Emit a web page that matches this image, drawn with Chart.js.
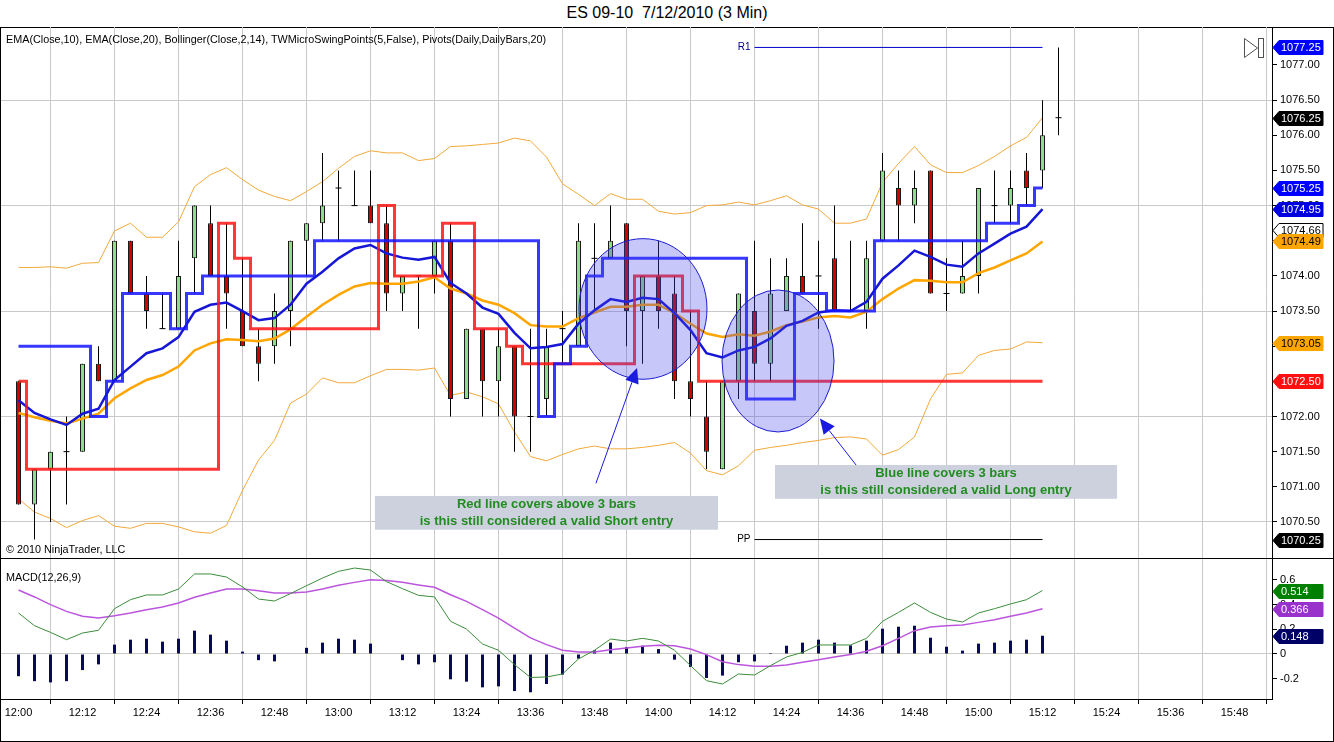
<!DOCTYPE html>
<html>
<head>
<meta charset="utf-8">
<title>ES 09-10 7/12/2010 (3 Min)</title>
<script src="https://cdn.jsdelivr.net/npm/chart.js@4.4.1/dist/chart.umd.min.js"></script>
<style>
  html, body { margin: 0; padding: 0; background: #fff; }
  body { width: 1334px; height: 742px; position: relative; overflow: hidden; font-family: "Liberation Sans", Arial, sans-serif; color: #000; }
  #title { position: absolute; left: 0; top: 4px; width: 1334px; text-align: center; font-size: 16px; line-height: 18px; }
  #frame { position: absolute; left: 0; top: 27px; width: 1332px; height: 713px; border: 1px solid #000; }
  #sep { position: absolute; left: 0; top: 558px; width: 1334px; height: 1px; background: #000; }
  .box { position: absolute; left: 0; width: 1334px; }
  #priceBox { top: 27px; height: 531px; }
  #macdBox { top: 558px; height: 184px; }
  .lbl { position: absolute; left: 6px; font-size: 10.8px; line-height: 13px; white-space: nowrap; }
</style>
</head>
<body>
<div id="title">ES 09-10&nbsp; 7/12/2010 (3 Min)</div>
<div id="frame"></div>
<div class="box" id="priceBox"><canvas id="priceChart"></canvas></div>
<div class="box" id="macdBox"><canvas id="macdChart"></canvas></div>
<div id="sep"></div>
<div class="lbl" style="top:33px">EMA(Close,10), EMA(Close,20), Bollinger(Close,2,14), TWMicroSwingPoints(5,False), Pivots(Daily,DailyBars,20)</div>
<div class="lbl" style="top:543px">© 2010 NinjaTrader, LLC</div>
<div class="lbl" style="top:571px">MACD(12,26,9)</div>

<script>
/* ── axis labels ── */
const timeLabels = ['12:00','12:12','12:24','12:36','12:48','13:00','13:12','13:24','13:36','13:48',
                    '14:00','14:12','14:24','14:36','14:48','15:00','15:12','15:24','15:36','15:48'];
const priceTicks = [1070.5, 1071, 1071.5, 1072, 1072.5, 1073, 1073.5, 1074, 1074.5, 1075, 1075.5, 1076, 1076.5, 1077];
const priceGrid  = [1070.5, 1072, 1073.5, 1075, 1076.5];
const macdTicks  = [-0.2, 0, 0.2, 0.4, 0.6];

/* ── 3 min bars, 12:00 .. 15:15 ── */
const opens  = [1072.5, 1070.75, 1071.25, 1071.5, 1071.5, 1072.75, 1072.5, 1074.5, 1073.75, 1073.25,
                1073.25, 1074.25, 1074.75, 1074.0, 1073.5, 1073.0, 1073.0, 1073.5, 1074.5, 1074.75,
                1075.25, 1075.0, 1075.0, 1074.75, 1073.75, 1074.0, 1074.0, 1074.5, 1072.25, 1073.25,
                1072.5, 1073.0, 1072.0, 1072.25, 1073.25, 1073.0, 1074.25, 1074.25, 1074.75, 1073.5,
                1074.0, 1073.75, 1072.5, 1072.0, 1071.25, 1072.5, 1073.5, 1072.75, 1073.5, 1074.0,
                1074.0, 1074.25, 1073.5, 1073.5, 1074.5, 1075.25, 1075.0, 1075.5, 1073.75, 1073.75,
                1074.0, 1075.0, 1075.0, 1075.5, 1075.5, 1076.25];
const highs  = [1072.5, 1071.25, 1071.5, 1072.0, 1072.75, 1073.0, 1074.5, 1074.5, 1074.0, 1073.75,
                1074.5, 1075.0, 1075.0, 1074.75, 1074.25, 1073.25, 1073.75, 1074.5, 1074.75, 1075.75,
                1075.5, 1075.5, 1075.5, 1075.0, 1074.0, 1074.0, 1074.5, 1074.75, 1073.25, 1073.25,
                1073.25, 1073.0, 1073.25, 1073.25, 1073.5, 1074.75, 1074.75, 1075.0, 1074.75, 1074.0,
                1074.5, 1074.0, 1073.5, 1072.5, 1072.5, 1073.75, 1074.5, 1074.25, 1074.25, 1074.75,
                1074.5, 1075.0, 1074.5, 1074.5, 1075.75, 1075.5, 1075.5, 1075.5, 1074.25, 1074.5,
                1075.25, 1075.5, 1075.5, 1075.75, 1076.5, 1077.25];
const lows   = [1070.75, 1070.25, 1070.5, 1070.75, 1071.5, 1072.5, 1072.5, 1073.75, 1073.25, 1073.25,
                1073.25, 1073.75, 1074.0, 1073.25, 1073.0, 1072.5, 1072.75, 1073.0, 1074.0, 1074.5,
                1074.5, 1075.0, 1074.75, 1073.5, 1073.5, 1073.25, 1073.75, 1072.0, 1072.25, 1072.0,
                1072.0, 1071.5, 1071.5, 1072.0, 1072.75, 1073.0, 1073.5, 1074.25, 1073.0, 1072.75,
                1073.25, 1072.25, 1072.0, 1071.25, 1071.25, 1072.25, 1072.5, 1072.5, 1073.5, 1073.75,
                1073.25, 1073.5, 1073.5, 1073.25, 1074.5, 1074.5, 1074.75, 1073.75, 1073.5, 1073.75,
                1073.75, 1074.75, 1074.75, 1075.0, 1075.25, 1076.0];
const closes = [1070.75, 1071.25, 1071.5, 1071.5, 1072.75, 1072.5, 1074.5, 1073.75, 1073.5, 1073.25,
                1074.0, 1075.0, 1074.0, 1073.75, 1073.0, 1072.75, 1073.5, 1074.5, 1074.75, 1075.0,
                1075.25, 1075.0, 1074.75, 1073.75, 1074.0, 1074.0, 1074.5, 1072.25, 1073.25, 1072.5,
                1073.0, 1072.0, 1072.0, 1073.0, 1073.25, 1074.5, 1074.25, 1074.5, 1073.5, 1074.0,
                1073.5, 1072.5, 1072.25, 1071.5, 1072.5, 1073.75, 1072.75, 1073.75, 1074.0, 1073.75,
                1074.0, 1073.5, 1073.5, 1074.25, 1075.5, 1075.0, 1075.25, 1073.75, 1073.75, 1074.0,
                1075.25, 1075.0, 1075.25, 1075.25, 1076.0, 1076.25];

/* ── indicators (read per bar, last bar still open) ── */
const ema10   = [1072.23, 1072.05, 1071.96, 1071.88, 1072.04, 1072.11, 1072.52, 1072.71, 1072.90, 1072.97,
                 1073.13, 1073.49, 1073.59, 1073.62, 1073.50, 1073.37, 1073.40, 1073.59, 1073.89, 1074.06,
                 1074.25, 1074.39, 1074.44, 1074.32, 1074.26, 1074.23, 1074.27, 1073.90, 1073.75, 1073.55,
                 1073.46, 1073.19, 1072.97, 1072.99, 1073.03, 1073.32, 1073.51, 1073.67, 1073.63, 1073.69,
                 1073.67, 1073.47, 1073.23, 1072.90, 1072.84, 1072.94, 1072.99, 1073.11, 1073.29, 1073.36,
                 1073.48, 1073.51, 1073.50, 1073.63, 1073.96, 1074.15, 1074.36, 1074.27, 1074.16, 1074.13,
                 1074.32, 1074.46, 1074.60, 1074.70, 1074.95];
const ema20   = [1072.05, 1071.99, 1071.94, 1071.90, 1071.97, 1072.04, 1072.26, 1072.40, 1072.52, 1072.59,
                 1072.71, 1072.94, 1073.04, 1073.10, 1073.09, 1073.07, 1073.11, 1073.24, 1073.42, 1073.59,
                 1073.73, 1073.85, 1073.90, 1073.89, 1073.89, 1073.92, 1073.98, 1073.82, 1073.75, 1073.65,
                 1073.59, 1073.47, 1073.30, 1073.28, 1073.28, 1073.40, 1073.48, 1073.56, 1073.56, 1073.59,
                 1073.59, 1073.47, 1073.32, 1073.18, 1073.13, 1073.17, 1073.15, 1073.21, 1073.30, 1073.35,
                 1073.41, 1073.43, 1073.41, 1073.49, 1073.67, 1073.82, 1073.94, 1073.93, 1073.91, 1073.91,
                 1074.04, 1074.12, 1074.22, 1074.32, 1074.49];
const bbUpper = [1074.12, 1074.12, 1074.13, 1074.11, 1074.18, 1074.19, 1074.64, 1074.75, 1074.55, 1074.55,
                 1074.77, 1075.27, 1075.44, 1075.54, 1075.37, 1075.22, 1075.13, 1075.07, 1075.20, 1075.34,
                 1075.53, 1075.70, 1075.78, 1075.75, 1075.75, 1075.64, 1075.67, 1075.84, 1075.85, 1075.87,
                 1075.89, 1075.96, 1075.92, 1075.69, 1075.31, 1075.16, 1075.00, 1075.17, 1075.09, 1075.09,
                 1074.92, 1074.88, 1074.90, 1075.00, 1075.01, 1075.05, 1075.01, 1075.07, 1075.14, 1075.01,
                 1074.95, 1074.75, 1074.75, 1074.81, 1075.33, 1075.60, 1075.84, 1075.58, 1075.47, 1075.47,
                 1075.57, 1075.70, 1075.85, 1075.97, 1076.25];
const bbLower = [1070.83, 1070.64, 1070.55, 1070.42, 1070.52, 1070.59, 1070.44, 1070.41, 1070.48, 1070.48,
                 1070.43, 1070.36, 1070.34, 1070.45, 1070.95, 1071.38, 1071.66, 1072.19, 1072.32, 1072.55,
                 1072.48, 1072.48, 1072.58, 1072.67, 1072.67, 1072.66, 1072.69, 1072.30, 1072.35, 1072.28,
                 1072.18, 1071.78, 1071.43, 1071.37, 1071.46, 1071.54, 1071.58, 1071.54, 1071.54, 1071.56,
                 1071.59, 1071.63, 1071.48, 1071.23, 1071.17, 1071.30, 1071.52, 1071.56, 1071.59, 1071.63,
                 1071.66, 1071.70, 1071.71, 1071.68, 1071.45, 1071.53, 1071.71, 1072.25, 1072.60, 1072.62,
                 1072.87, 1072.94, 1072.96, 1073.06, 1073.05];
const bbMiddleLast = 1074.66;

/* swing lines (TWMicroSwingPoints) */
const swingHigh = [1073.0, 1073.0, 1073.0, 1073.0, 1073.0, 1072.0, 1072.5, 1073.75, 1073.75, 1073.75,
                   1073.25, 1073.75, 1074.0, 1074.0, 1074.0, 1074.0, 1074.0, 1074.0, 1074.0, 1074.5,
                   1074.5, 1074.5, 1074.5, 1074.5, 1074.5, 1074.5, 1074.5, 1074.5, 1074.5, 1074.5,
                   1074.5, 1074.5, 1074.5, 1072.0, 1072.75, 1073.0, 1074.0, 1074.25, 1074.25, 1074.25,
                   1074.25, 1074.25, 1074.25, 1074.25, 1074.25, 1074.25, 1072.25, 1072.25, 1072.25, 1073.75,
                   1073.75, 1073.5, 1073.5, 1073.5, 1074.5, 1074.5, 1074.5, 1074.5, 1074.5, 1074.5,
                   1074.5, 1074.75, 1074.75, 1075.0, 1075.25];
const swingLow  = [1072.5, 1071.25, 1071.25, 1071.25, 1071.25, 1071.25, 1071.25, 1071.25, 1071.25, 1071.25,
                   1071.25, 1071.25, 1071.25, 1074.75, 1074.25, 1073.25, 1073.25, 1073.25, 1073.25, 1073.25,
                   1073.25, 1073.25, 1073.25, 1075.0, 1074.0, 1074.0, 1074.0, 1074.75, 1074.75, 1073.25,
                   1073.25, 1073.0, 1072.75, 1072.75, 1072.75, 1072.75, 1072.75, 1072.75, 1072.75, 1074.0,
                   1074.0, 1074.0, 1073.5, 1072.5, 1072.5, 1072.5, 1072.5, 1072.5, 1072.5, 1072.5,
                   1072.5, 1072.5, 1072.5, 1072.5, 1072.5, 1072.5, 1072.5, 1072.5, 1072.5, 1072.5,
                   1072.5, 1072.5, 1072.5, 1072.5, 1072.5];

/* daily pivots, drawn over the last bars */
const pivotNames  = ['R1', 'PP'];
const pivotValues = [1077.25, 1070.25];
const pivotBars   = [46, 64];

/* MACD(12,26,9) */
const macdLine   = [0.332, 0.229, 0.175, 0.116, 0.170, 0.192, 0.367, 0.440, 0.478, 0.478,
                    0.526, 0.648, 0.648, 0.623, 0.543, 0.445, 0.429, 0.489, 0.553, 0.615,
                    0.669, 0.696, 0.680, 0.586, 0.529, 0.475, 0.462, 0.265, 0.202, 0.081,
                    0.030, -0.086, -0.190, -0.186, -0.162, -0.040, 0.030, 0.121, 0.105, 0.127,
                    0.105, 0.030, -0.094, -0.216, -0.243, -0.162, -0.170, -0.094, -0.024, 0.013,
                    0.073, 0.073, 0.073, 0.127, 0.265, 0.337, 0.413, 0.337, 0.283, 0.259,
                    0.332, 0.367, 0.405, 0.440, 0.514];
const signalLine = [0.518, 0.462, 0.400, 0.345, 0.305, 0.291, 0.310, 0.332, 0.359, 0.381,
                    0.413, 0.459, 0.494, 0.526, 0.526, 0.513, 0.494, 0.494, 0.502, 0.526,
                    0.556, 0.580, 0.602, 0.596, 0.580, 0.559, 0.540, 0.480, 0.426, 0.359,
                    0.291, 0.210, 0.130, 0.076, 0.030, 0.016, 0.016, 0.035, 0.049, 0.062,
                    0.070, 0.067, 0.040, -0.005, -0.062, -0.086, -0.100, -0.100, -0.089, -0.067,
                    -0.046, -0.024, -0.005, 0.022, 0.067, 0.127, 0.189, 0.219, 0.229, 0.235,
                    0.256, 0.278, 0.305, 0.332, 0.366];
const macdHist   = [-0.180, -0.220, -0.230, -0.220, -0.130, -0.084, 0.076, 0.116, 0.124, 0.100,
                    0.124, 0.189, 0.157, 0.108, 0.019, -0.050, -0.060, 0.000, 0.050, 0.092,
                    0.124, 0.116, 0.084, 0.000, -0.050, -0.084, -0.067, -0.205, -0.224, -0.270,
                    -0.262, -0.300, -0.310, -0.243, -0.167, -0.038, 0.030, 0.092, 0.057, 0.067,
                    0.040, -0.046, -0.105, -0.194, -0.175, -0.067, -0.060, 0.008, 0.067, 0.092,
                    0.116, 0.092, 0.070, 0.108, 0.205, 0.221, 0.229, 0.132, 0.059, 0.027,
                    0.084, 0.092, 0.108, 0.116, 0.148];

/* ── drawing objects placed on the chart (bar index / price) ── */
const ellipses = [
    { bar: 39.03, price: 1073.53, halfBars: 4.0, halfPts: 1.0 },
    { bar: 47.47, price: 1072.79, halfBars: 3.5, halfPts: 1.01 },
];
const arrows = [
    { from: [36.09, 1071.05], to: [38.66, 1072.69] },
    { from: [53.41, 1071.00], to: [50.09, 1071.97] },
];
const notes = [
    { bars: [22.28, 43.72], prices: [1070.87, 1070.39], lines: ['Red line covers above 3 bars', 'is this still considered a valid Short entry'] },
    { bars: [47.28, 68.66], prices: [1071.31, 1070.83], lines: ['Blue line covers 3 bars', 'is this still considered a valid Long entry'] },
];

/* ── chart setup ── */
const FAMILY = '"Liberation Sans", Arial, sans-serif';
const FONT   = { family: FAMILY, size: 11 };
const GRID   = '#c9c9c9';
const X_MIN  = -1.09375, X_MAX = 78.34375;

Chart.defaults.font.family = FAMILY;
Chart.defaults.font.size = 11;
Chart.defaults.color = '#000';
Chart.defaults.animation = false;

const idx    = closes.map((_, i) => i);
const series = arr => arr.map((v, i) => ({ x: i, y: v }));

const wickData = idx.map(i => ({ x: i, y: [lows[i], highs[i]] }));
const upData   = idx.filter(i => closes[i] > opens[i]).map(i => ({ x: i, y: [opens[i], closes[i]] }));
const downData = idx.filter(i => closes[i] < opens[i]).map(i => ({ x: i, y: [closes[i], opens[i]] }));
const dojiData = idx.filter(i => closes[i] === opens[i]).map(i => ({ x: i, y: closes[i] }));

function timeAxis(withLabels) {
    return {
        type: 'linear', min: X_MIN, max: X_MAX, offset: false,
        afterBuildTicks: s => { s.ticks = timeLabels.map((t, k) => ({ value: k * 4 })); },
        afterFit: s => { s.paddingLeft = 0; s.paddingRight = 0; s.height = withLabels ? 43 : 0; },
        grid:   { color: GRID, drawTicks: withLabels, tickLength: 5, tickColor: '#000' },
        border: { display: withLabels, color: '#000' },
        ticks:  { display: withLabels, autoSkip: false, maxRotation: 0, padding: 2, color: '#000', font: FONT,
                  callback: v => timeLabels[Math.round(v / 4)] },
    };
}

function line(data, color, width, order, extra) {
    return Object.assign({ type: 'line', data, borderColor: color, borderWidth: width, pointRadius: 0,
                           tension: 0, fill: false, order }, extra || {});
}

function bars(data, fill, edge, thick, order) {
    return { type: 'bar', data, backgroundColor: fill, borderColor: edge, borderWidth: edge ? 1 : 0,
             borderSkipped: false, grouped: false, maxBarThickness: thick, order };
}

function marker(ctx, x0, y, text, bg, fg, edge) {
    ctx.beginPath();
    ctx.moveTo(x0, y);
    ctx.lineTo(x0 + 6, y - 7);
    ctx.lineTo(x0 + 50, y - 7);
    ctx.lineTo(x0 + 50, y + 7);
    ctx.lineTo(x0 + 6, y + 7);
    ctx.closePath();
    ctx.fillStyle = bg;
    ctx.fill();
    ctx.strokeStyle = edge || bg;
    ctx.lineWidth = 1;
    ctx.stroke();
    ctx.fillStyle = fg;
    ctx.font = '11px ' + FAMILY;
    ctx.textAlign = 'left';
    ctx.textBaseline = 'middle';
    ctx.fillText(text, x0 + 8, y + 0.5);
}

function arrow(ctx, x0, y0, x1, y1) {
    const a = Math.atan2(y1 - y0, x1 - x0), len = 15, half = 7;
    const bx = x1 - len * Math.cos(a), by = y1 - len * Math.sin(a);
    ctx.beginPath(); ctx.moveTo(x0, y0); ctx.lineTo(bx, by); ctx.stroke();
    ctx.beginPath();
    ctx.moveTo(x1, y1);
    ctx.lineTo(bx + half * Math.sin(a), by - half * Math.cos(a));
    ctx.lineTo(bx - half * Math.sin(a), by + half * Math.cos(a));
    ctx.closePath();
    ctx.fill();
}

/* ── price panel overlays ── */
const priceOverlay = {
    id: 'priceOverlay',
    afterDraw(chart) {
        const { ctx, chartArea, scales: { x, y } } = chart;
        ctx.save();

        // pivot names
        ctx.font = '10px ' + FAMILY;
        ctx.textAlign = 'right';
        ctx.textBaseline = 'middle';
        pivotNames.forEach((n, k) => {
            ctx.fillStyle = k === 0 ? '#00008b' : '#000';
            ctx.fillText(n, x.getPixelForValue(pivotBars[0]) - 4, y.getPixelForValue(pivotValues[k]));
        });

        // ellipses
        ctx.fillStyle = 'rgba(70,70,235,0.3)';
        ctx.strokeStyle = '#1c1cd0';
        ctx.lineWidth = 1;
        ellipses.forEach(e => {
            const cx = x.getPixelForValue(e.bar), cy = y.getPixelForValue(e.price);
            const rx = Math.abs(x.getPixelForValue(e.bar + e.halfBars) - cx);
            const ry = Math.abs(y.getPixelForValue(e.price + e.halfPts) - cy);
            ctx.beginPath();
            ctx.ellipse(cx, cy, rx, ry, 0, 0, Math.PI * 2);
            ctx.fill();
            ctx.stroke();
        });

        // arrows
        ctx.strokeStyle = '#1a1ae0';
        ctx.fillStyle = '#1a1ae0';
        arrows.forEach(a => arrow(ctx, x.getPixelForValue(a.from[0]), y.getPixelForValue(a.from[1]),
                                       x.getPixelForValue(a.to[0]), y.getPixelForValue(a.to[1])));

        // text notes
        notes.forEach(n => {
            const l = x.getPixelForValue(n.bars[0]), r = x.getPixelForValue(n.bars[1]);
            const t = y.getPixelForValue(n.prices[0]), b = y.getPixelForValue(n.prices[1]);
            ctx.fillStyle = '#cdd1dd';
            ctx.fillRect(l, t, r - l, b - t);
            ctx.fillStyle = '#228b22';
            ctx.font = 'bold 13px ' + FAMILY;
            ctx.textAlign = 'center';
            ctx.textBaseline = 'middle';
            ctx.fillText(n.lines[0], (l + r) / 2, t + 8.5);
            ctx.fillText(n.lines[1], (l + r) / 2, t + 25.5);
        });

        // "go to last bar" icon
        const ix = chartArea.right - 28, iy = chartArea.top + 11;
        ctx.strokeStyle = '#505050';
        ctx.beginPath();
        ctx.moveTo(ix + 0.5, iy + 0.5); ctx.lineTo(ix + 0.5, iy + 19.5); ctx.lineTo(ix + 13.5, iy + 10); ctx.closePath();
        ctx.stroke();
        ctx.strokeRect(ix + 14.5, iy + 0.5, 5, 19);

        // value markers on the price axis
        const x0 = chartArea.right + 1, last = ema10.length - 1;
        const marks = [
            [pivotValues[0],       '#0000ff', '#fff'],
            [closes[closes.length - 1], '#000', '#fff'],
            [swingHigh[last],      '#0000ff', '#fff'],
            [ema10[last],          '#0000e0', '#fff'],
            [bbMiddleLast,         '#fff',    '#000', '#000'],
            [ema20[last],          '#ffa500', '#000'],
            [bbLower[last],        '#ffa500', '#000'],
            [swingLow[last],       '#ff1010', '#fff'],
            [pivotValues[1],       '#000',    '#fff'],
        ];
        marks.forEach(([v, bg, fg, edge]) => marker(ctx, x0, Math.round(y.getPixelForValue(v)) + 0.5, v.toFixed(2), bg, fg, edge));
        ctx.restore();
    }
};

new Chart(document.getElementById('priceChart'), {
    type: 'line',
    data: {
        datasets: [
            line(series(swingHigh), 'rgba(20,20,255,0.85)', 3, 0, { stepped: 'middle' }),
            line(series(swingLow),  'rgba(255,20,20,0.85)', 3, 1, { stepped: 'middle' }),
            line(series(ema10), '#1616d6', 2.5, 2),
            line(series(ema20), '#ffa500', 2.5, 3),
            line(pivotBars.map(b => ({ x: b, y: pivotValues[0] })), '#0000cc', 1, 4),
            line(pivotBars.map(b => ({ x: b, y: pivotValues[1] })), '#000', 1, 4),
            line(dojiData, '#000', 1, 5, { showLine: false, pointStyle: 'line', pointRadius: 3,
                                           pointBorderColor: '#000', pointBorderWidth: 1 }),
            bars(upData,   '#8fdc8f', '#1a1a1a', 5, 6),
            bars(downData, '#d40000', '#1a1a1a', 5, 6),
            bars(wickData, '#000', null, 1, 7),
            line(series(bbUpper), '#f2a93b', 1, 8),
            line(series(bbLower), '#f2a93b', 1, 8),
        ]
    },
    options: {
        responsive: true, maintainAspectRatio: false, devicePixelRatio: 1, events: [],
        layout: { autoPadding: false, padding: { left: 1, right: 0, top: 0, bottom: 0 } },
        plugins: { legend: { display: false }, tooltip: { enabled: false } },
        scales: {
            x: timeAxis(false),
            y: {
                type: 'linear', position: 'right', min: 1069.9875, max: 1077.5405,
                afterBuildTicks: s => { s.ticks = priceTicks.map(v => ({ value: v })); },
                afterFit: s => { s.width = 62; s.paddingTop = 0; s.paddingBottom = 0; },
                grid: { color: c => (c.tick && priceGrid.includes(c.tick.value)) ? GRID : 'rgba(0,0,0,0)',
                        tickColor: '#000', tickLength: 5 },
                border: { color: '#000' },
                ticks: { autoSkip: false, padding: 3, color: '#000', font: FONT, callback: v => v.toFixed(2) },
            }
        }
    },
    plugins: [priceOverlay]
});

/* ── MACD panel ── */
const macdOverlay = {
    id: 'macdOverlay',
    afterDraw(chart) {
        const { ctx, chartArea, scales: { y } } = chart;
        const x0 = chartArea.right + 1, last = macdLine.length - 1;
        ctx.save();
        [[macdLine[last], '#008000'], [signalLine[last], '#9932cc'], [macdHist[last], '#000066']]
            .forEach(([v, bg]) => marker(ctx, x0, Math.round(y.getPixelForValue(v)) + 0.5, v.toFixed(3), bg, '#fff'));
        ctx.restore();
    }
};

new Chart(document.getElementById('macdChart'), {
    type: 'line',
    data: {
        datasets: [
            line(series(macdLine),   '#3c8c3c', 1, 0),
            line(series(signalLine), '#bb55dd', 1.5, 1),
            bars(series(macdHist), '#0a0a5a', null, 3, 2),
        ]
    },
    options: {
        responsive: true, maintainAspectRatio: false, devicePixelRatio: 1, events: [],
        layout: { autoPadding: false, padding: { left: 1, right: 0, top: 0, bottom: 0 } },
        plugins: { legend: { display: false }, tooltip: { enabled: false } },
        scales: {
            x: timeAxis(true),
            y: {
                type: 'linear', position: 'right', min: -0.3644, max: 0.7773,
                afterBuildTicks: s => { s.ticks = macdTicks.map(v => ({ value: v })); },
                afterFit: s => { s.width = 62; s.paddingTop = 0; s.paddingBottom = 0; },
                grid: { color: c => (c.tick && c.tick.value === 0) ? GRID : 'rgba(0,0,0,0)',
                        tickColor: '#000', tickLength: 5 },
                border: { color: '#000' },
                ticks: { autoSkip: false, padding: 3, color: '#000', font: FONT,
                         callback: v => (v === 0 ? '0' : String(v)) },
            }
        }
    },
    plugins: [macdOverlay]
});
</script>
</body>
</html>
